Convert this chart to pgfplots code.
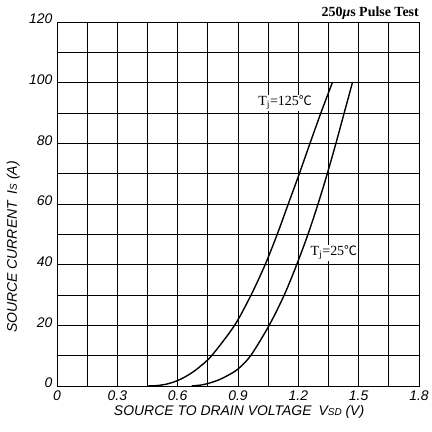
\documentclass[border=0pt]{standalone}
\usepackage{fontspec}
\setmainfont{Liberation Sans}
\newfontfamily\serif{Liberation Serif}
\newfontfamily\cjk{Noto Sans CJK SC}
\usepackage{pgfplots}
\pgfplotsset{compat=1.18}

\newcommand{\degC}{{\cjk\fontsize{13}{14}\selectfont ℃}}

\begin{document}
\begin{tikzpicture}
\begin{axis}[
    scale only axis,
    width=362bp, height=364bp,
    xmin=0, xmax=1.8, ymin=0, ymax=120,
    xtick={0,0.3,0.6,0.9,1.2,1.5,1.8},
    xticklabels={0,0.3,0.6,0.9,1.2,1.5,1.8},
    minor xtick={0.15,0.45,0.75,1.05,1.35,1.65},
    ytick={0,20,40,60,80,100,120},
    minor ytick={10,30,50,70,90,110},
    grid=both,
    major grid style={black, line width=0.8pt},
    minor grid style={black, line width=0.8pt},
    axis line style={black, line width=0.8pt},
    major tick length=0pt, minor tick length=0pt,
    /pgf/number format/assume math mode=true,
    tick label style={font=\fontsize{14}{16}\selectfont\itshape},
    xticklabel style={yshift=-1pt},
    yticklabel style={xshift=-1pt, yshift=3pt},
    xlabel={\itshape SOURCE TO DRAIN VOLTAGE\enspace V{\fontsize{10}{11}\selectfont SD} (V)},
    ylabel={\itshape SOURCE CURRENT\enspace I{\fontsize{10}{11}\selectfont S} (A)},
    label style={font=\fontsize{14}{16}\selectfont},
    xlabel style={at={(rel axis cs:0.503,-0.072)}, anchor=center},
    ylabel style={at={(rel axis cs:-0.121,0.382)}, anchor=center},
    clip=false,
]
% Tj = 125 C
\addplot[black, line width=1.4pt, smooth] coordinates {
    (0.45,0) (0.5,0.15) (0.55,0.7) (0.6,1.8) (0.65,3.5) (0.7,5.8)
    (0.769,10) (0.883,20) (0.965,30) (1.035,40) (1.095,50) (1.15,60)
    (1.205,70) (1.258,80) (1.312,90) (1.369,100)
};
% Tj = 25 C
\addplot[black, line width=1.4pt, smooth] coordinates {
    (0.67,0) (0.72,0.35) (0.75,0.8) (0.8,1.9) (0.85,3.5) (0.9,5.6)
    (0.963,10) (1.055,20) (1.13,30) (1.192,40) (1.248,50) (1.298,60)
    (1.344,70) (1.387,80) (1.428,90) (1.469,100)
};
\node[fill=white, inner sep=1pt, font=\serif\fontsize{14}{16}\selectfont]
    at (axis cs:1.134,93.3) {T\textsubscript{j}=125\degC};
\node[fill=white, inner sep=1pt, font=\serif\fontsize{14}{16}\selectfont]
    at (axis cs:1.377,43.9) {T\textsubscript{j}=25\degC};
\node[anchor=south east, inner sep=0pt, font=\serif\bfseries\fontsize{14}{16}\selectfont]
    at (rel axis cs:1,1.006) {250\textit{\symbol{"03BC}}s Pulse Test};
\end{axis}
\path[use as bounding box] ([xshift=-57bp,yshift=-46bp]current axis.south west)
    rectangle ([xshift=8bp,yshift=22bp]current axis.north east);
\end{tikzpicture}
\end{document}
